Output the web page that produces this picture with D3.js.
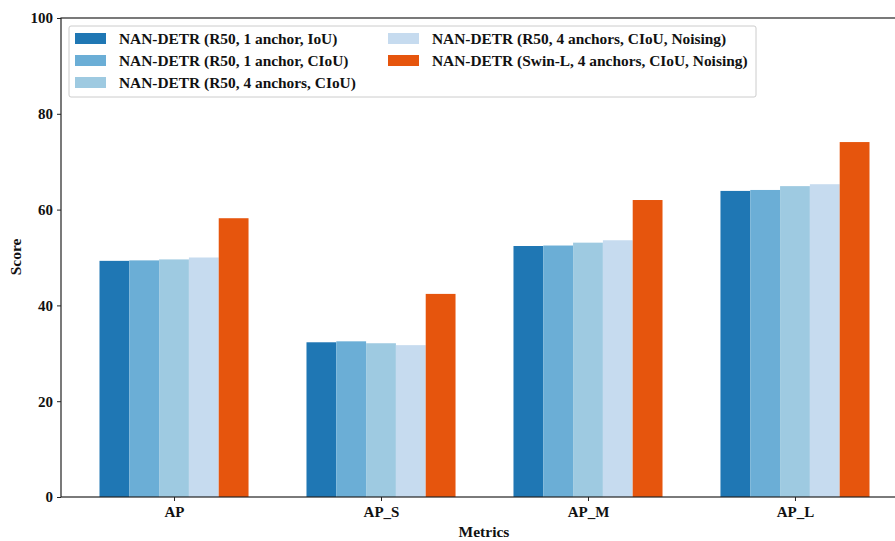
<!DOCTYPE html>
<html><head><meta charset="utf-8">
<script src="https://cdn.jsdelivr.net/npm/d3@7"></script>
<style>body{margin:0;background:#fff;overflow:hidden}svg{display:block}text{font-family:"Liberation Serif","Times New Roman",serif;font-weight:bold}</style>
</head><body><svg id="c" width="895" height="541"></svg>
<script>
const categories = ["AP", "AP_S", "AP_M", "AP_L"];
const seriesNames = [
  "NAN-DETR (R50, 1 anchor, IoU)",
  "NAN-DETR (R50, 1 anchor, CIoU)",
  "NAN-DETR (R50, 4 anchors, CIoU)",
  "NAN-DETR (R50, 4 anchors, CIoU, Noising)",
  "NAN-DETR (Swin-L, 4 anchors, CIoU, Noising)"
];
const s1 = [49.3, 32.3, 52.4, 63.9];
const s2 = [49.4, 32.5, 52.5, 64.1];
const s3 = [49.6, 32.1, 53.1, 64.9];
const s4 = [50.0, 31.7, 53.6, 65.3];
const s5 = [58.2, 42.4, 62.0, 74.1];
const seriesValues = [s1, s2, s3, s4, s5];
const colors = ["#1f77b4", "#6baed6", "#9ecae1", "#c6dbef", "#e6550d"];
const yTicks = [0, 20, 40, 60, 80, 100];

(function () {
const svg = d3.select("#c");
const mLeft = 61, mRight = 908, mTop = 18, mBottom = 497;
const w = 0.144;
const x = d3.scaleLinear().domain([-0.546, 3.546]).range([mLeft, mRight]);
const y = d3.scaleLinear().domain([0, 100]).range([mBottom, mTop]);

seriesValues.forEach((vals, j) => {
  svg.append("g").selectAll("rect").data(vals).join("rect")
    .attr("x", (d, i) => x(i + (j - 2) * w - w / 2))
    .attr("width", x(w) - x(0))
    .attr("y", d => y(d))
    .attr("height", d => y(0) - y(d))
    .attr("fill", colors[j]);
});

svg.append("rect").attr("x", mLeft).attr("y", mTop).attr("width", mRight - mLeft).attr("height", mBottom - mTop)
  .attr("fill", "none").attr("stroke", "#222").attr("stroke-width", 1.2);

const yAxis = svg.append("g").attr("transform", `translate(${mLeft},0)`)
  .call(d3.axisLeft(y).tickValues(yTicks).tickSize(4).tickPadding(4));
const xAxis = svg.append("g").attr("transform", `translate(0,${mBottom})`)
  .call(d3.axisBottom(x).tickValues(d3.range(categories.length)).tickFormat(i => categories[i]).tickSize(4).tickPadding(5));
[yAxis, xAxis].forEach(a => {
  a.select(".domain").remove();
  a.selectAll("line").attr("stroke", "#222");
  a.selectAll("text").attr("font-size", 15).attr("fill", "#111")
    .attr("font-family", "Liberation Serif").attr("font-weight", "bold");
});

svg.append("text").attr("x", 484).attr("y", 537).attr("text-anchor", "middle")
  .attr("font-size", 15.5).attr("fill", "#111").text("Metrics");
svg.append("text").attr("transform", "translate(21,257) rotate(-90)").attr("text-anchor", "middle")
  .attr("font-size", 15.5).attr("fill", "#111").text("Score");

const lg = svg.append("g");
lg.append("rect").attr("x", 69).attr("y", 26).attr("width", 687).attr("height", 71).attr("rx", 2)
  .attr("fill", "#fff").attr("fill-opacity", 0.85).attr("stroke", "#ccc");
seriesNames.forEach((name, k) => {
  const col = k < 3 ? 0 : 1, row = k < 3 ? k : k - 3;
  const px = col === 0 ? 75 : 388, py = 33 + row * 22;
  lg.append("rect").attr("x", px).attr("y", py).attr("width", 31).attr("height", 11).attr("fill", colors[k]);
  lg.append("text").attr("x", px + 44).attr("y", py + 11).attr("font-size", 15.4).attr("fill", "#111").text(name);
});
})();
</script></body></html>
